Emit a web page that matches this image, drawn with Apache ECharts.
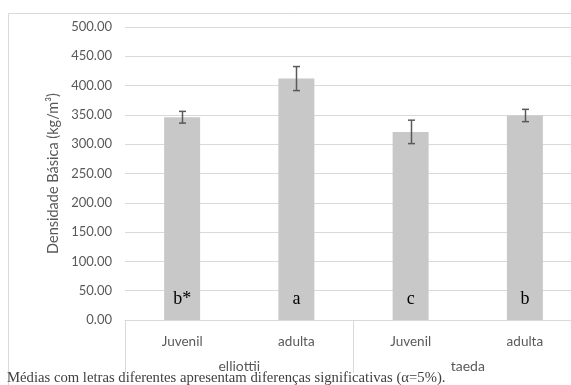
<!DOCTYPE html>
<html>
<head>
<meta charset="utf-8">
<script src="https://cdn.jsdelivr.net/npm/echarts@6/dist/echarts.min.js"></script>
<style>html,body{margin:0;padding:0;background:#fff;}#c{width:571px;height:385px;}</style>
</head>
<body>
<div id="c"></div>
<script>
var subCategories = ['Juvenil', 'adulta', 'Juvenil', 'adulta'];
var groups = ['elliottii', 'taeda'];
var values = [346, 412, 321, 349];
var errors = [10, 20.5, 20, 10.5];
var letters = ['b*', 'a', 'c', 'b'];
var yTicks = { min: 0, max: 500, interval: 50 };
var footnote = 'Médias com letras diferentes apresentam diferenças significativas (α=5%).';

var chart = echarts.init(document.getElementById('c'));
var sans = 'Lato';
var grey = '#595959';
chart.setOption({
  animation: false,
  graphic: [
    { type: 'rect', shape: { x: 8.5, y: 13.5, width: 700, height: 500 }, style: { fill: 'none', stroke: '#d9d9d9', lineWidth: 1 }, z: -1 },
    { type: 'text', left: 7, top: 371, style: { text: footnote, font: '14.7px "Liberation Serif"', fill: '#404040' }, z: 10 }
  ],
  grid: { left: 125, width: 457, top: 27, height: 293, containLabel: false, outerBoundsMode: 'none' },
  xAxis: [
    {
      type: 'category', data: subCategories, position: 'bottom',
      axisLine: { show: true, lineStyle: { color: '#d9d9d9' } },
      axisTick: { show: false },
      axisLabel: { color: grey, fontFamily: sans, fontSize: 13.5, margin: 15 }
    },
    {
      type: 'category', data: groups, position: 'bottom',
      axisLine: { show: false },
      axisTick: { show: true, length: 53, lineStyle: { color: '#d9d9d9' } },
      axisLabel: { color: grey, fontFamily: sans, fontSize: 14, margin: 39 }
    }
  ],
  yAxis: {
    type: 'value', min: yTicks.min, max: yTicks.max, interval: yTicks.interval,
    name: 'Densidade Básica (kg/m³)', nameLocation: 'middle', nameGap: 61,
    nameTextStyle: { color: grey, fontFamily: sans, fontSize: 14.5 },
    axisLine: { show: false }, axisTick: { show: false },
    axisLabel: { color: grey, fontFamily: sans, fontSize: 13, margin: 13, formatter: function (v) { return v.toFixed(2); } },
    splitLine: { lineStyle: { color: '#d9d9d9' } }
  },
  series: [
    {
      type: 'bar', data: values, barWidth: 36, xAxisIndex: 0,
      itemStyle: { color: '#c8c8c8' },
      label: {
        show: true, position: 'insideBottom', distance: 12,
        formatter: function (p) { return letters[p.dataIndex]; },
        fontFamily: '"Liberation Serif"', fontSize: 18, color: '#000'
      }
    },
    {
      type: 'custom', xAxisIndex: 0,
      data: values.map(function (v, i) { return [i, v - errors[i], v + errors[i]]; }),
      renderItem: function (params, api) {
        var lo = api.coord([api.value(0), api.value(1)]);
        var hi = api.coord([api.value(0), api.value(2)]);
        var x = Math.round(lo[0]) + 0.5, hw = 3.5;
        var st = { stroke: grey, lineWidth: 1.5 };
        return { type: 'group', children: [
          { type: 'line', shape: { x1: x, y1: hi[1], x2: x, y2: lo[1] }, style: st },
          { type: 'line', shape: { x1: x - hw, y1: hi[1], x2: x + hw, y2: hi[1] }, style: st },
          { type: 'line', shape: { x1: x - hw, y1: lo[1], x2: x + hw, y2: lo[1] }, style: st }
        ]};
      },
      z: 5
    }
  ]
});
</script>
</body>
</html>
